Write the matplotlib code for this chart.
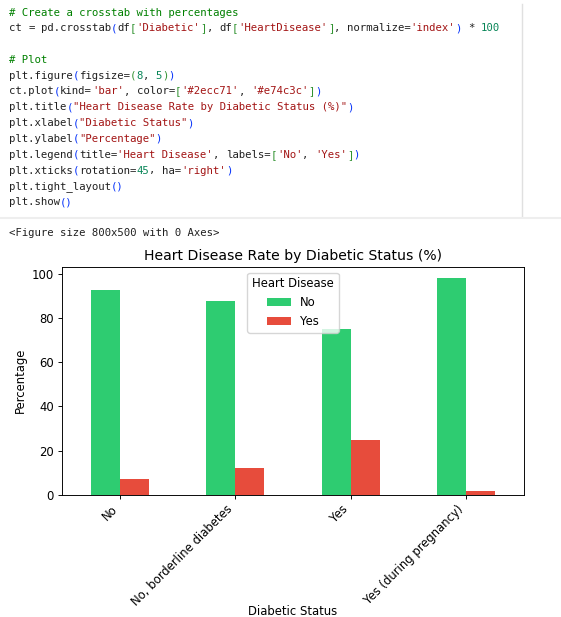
import numpy as np
import matplotlib
matplotlib.use("Agg")
import matplotlib.pyplot as plt

# valeurs (%)
categories = ["No", "No, borderline diabetes", "Yes", "Yes (during pregnancy)"]
no_pct = [92.7, 87.9, 75.0, 98.4]
yes_pct = [7.3, 12.1, 25.0, 1.6]
legend_labels = ["No", "Yes"]
bar_colors = ["#2ecc71", "#e74c3c"]

code_lines = [
    "# Create a crosstab with percentages",
    "ct = pd.crosstab(df['Diabetic'], df['HeartDisease'], normalize='index') * 100",
    "",
    "# Plot",
    "plt.figure(figsize=(8, 5))",
    "ct.plot(kind='bar', color=['#2ecc71', '#e74c3c'])",
    "plt.title(\"Heart Disease Rate by Diabetic Status (%)\")",
    "plt.xlabel(\"Diabetic Status\")",
    "plt.ylabel(\"Percentage\")",
    "plt.legend(title='Heart Disease', labels=['No', 'Yes'])",
    "plt.xticks(rotation=45, ha='right')",
    "plt.tight_layout()",
    "plt.show()",
]
output_line = "<Figure size 800x500 with 0 Axes>"

W, H = 561, 617


def fx(px):
    return px / W


def fy(py):
    return 1 - py / H


def char_colors(line):
    """Coloration simple façon notebook : commentaires, chaînes, nombres, parenthèses."""
    cols = []
    depth = 0
    quote = None
    bracket_cols = ["#0431fa", "#319331", "#7b3814"]
    i = 0
    while i < len(line):
        c = line[i]
        if quote is None and c == "#" and line.strip().startswith("#"):
            cols += ["#008000"] * (len(line) - i)
            break
        if quote:
            cols.append("#a31515")
            if c == quote:
                quote = None
        elif c in "'\"":
            quote = c
            cols.append("#a31515")
        elif c.isdigit() and (i == 0 or not (line[i - 1].isalnum() or line[i - 1] == "_")):
            j = i
            while j < len(line) and line[j].isdigit():
                j += 1
            cols += ["#098658"] * (j - i)
            i = j
            continue
        elif c in "([":
            cols.append(bracket_cols[depth % 3])
            depth += 1
        elif c in ")]":
            depth -= 1
            cols.append(bracket_cols[depth % 3])
        elif c == " ":
            cols.append(None)
        else:
            cols.append("#212121")
        i += 1
    return cols


def runs(line):
    # morceaux consécutifs de même couleur (les espaces séparent les morceaux)
    cols = char_colors(line)
    out = []
    start = None
    for i in range(len(line) + 1):
        c = cols[i] if i < len(line) else "END"
        if start is not None and c != cols[start]:
            out.append((start, line[start:i], cols[start]))
            start = None
        if start is None and c not in (None, "END"):
            start = i
    return out


fig = plt.figure(figsize=(W / 100, H / 100), dpi=100)
renderer = fig.canvas.get_renderer()

# --- cellule de code ---
mono = "DejaVu Sans Mono"
code_fs = 7.7


def text_width(s):
    t = fig.text(0, 0, s, family=mono, fontsize=code_fs)
    w_px = t.get_window_extent(renderer).width
    t.remove()
    return w_px


# avance réelle d'un caractère (police à chasse fixe)
adv = (text_width("x" * 101) - text_width("x")) / 100

y0, dy = 12.5, 15.8
for k, line in enumerate(code_lines):
    for col0, txt, col in runs(line):
        fig.text(fx(9 + col0 * adv), fy(y0 + k * dy), txt, family=mono, fontsize=code_fs,
                 color=col, va="center", ha="left")

fig.add_artist(plt.Line2D([fx(522), fx(522)], [fy(4), fy(216)], color="#e0e0e0", lw=1))
fig.add_artist(plt.Line2D([0, 1], [fy(218), fy(218)], color="#eeeeee", lw=1.5))

fig.text(fx(9), fy(233), output_line, family=mono, fontsize=code_fs, color="#212121",
         va="center", ha="left")

# --- graphique ---
s = 0.84  # facteur d'échelle de l'image affichée
ax = fig.add_axes([fx(62), fy(494.7), fx(524) - fx(62), fy(266.7) - fy(494.7)])
x = np.arange(len(categories))
w = 0.25
ax.bar(x - w / 2, no_pct, w, color=bar_colors[0], label=legend_labels[0])
ax.bar(x + w / 2, yes_pct, w, color=bar_colors[1], label=legend_labels[1])
ax.set_xlim(-0.5, len(categories) - 0.5)
ax.set_xticks(x)
ax.set_xticklabels(categories, rotation=45, ha="right", fontsize=10 * s)
ax.tick_params(axis="both", labelsize=10 * s, length=3.5 * s, width=0.8 * s, pad=3.5 * s)
for sp in ax.spines.values():
    sp.set_linewidth(0.8 * s)
ax.set_title("Heart Disease Rate by Diabetic Status (%)", fontsize=12 * s, pad=6 * s)
ax.set_ylabel("Percentage", fontsize=10 * s, labelpad=4 * s)
ax.set_xlabel("Diabetic Status", fontsize=10 * s)
ax.xaxis.set_label_coords(0.5, -0.485)
ax.legend(title="Heart Disease", loc="upper center", fontsize=10 * s, title_fontsize=10 * s)

fig.savefig("out.png", dpi=100)
